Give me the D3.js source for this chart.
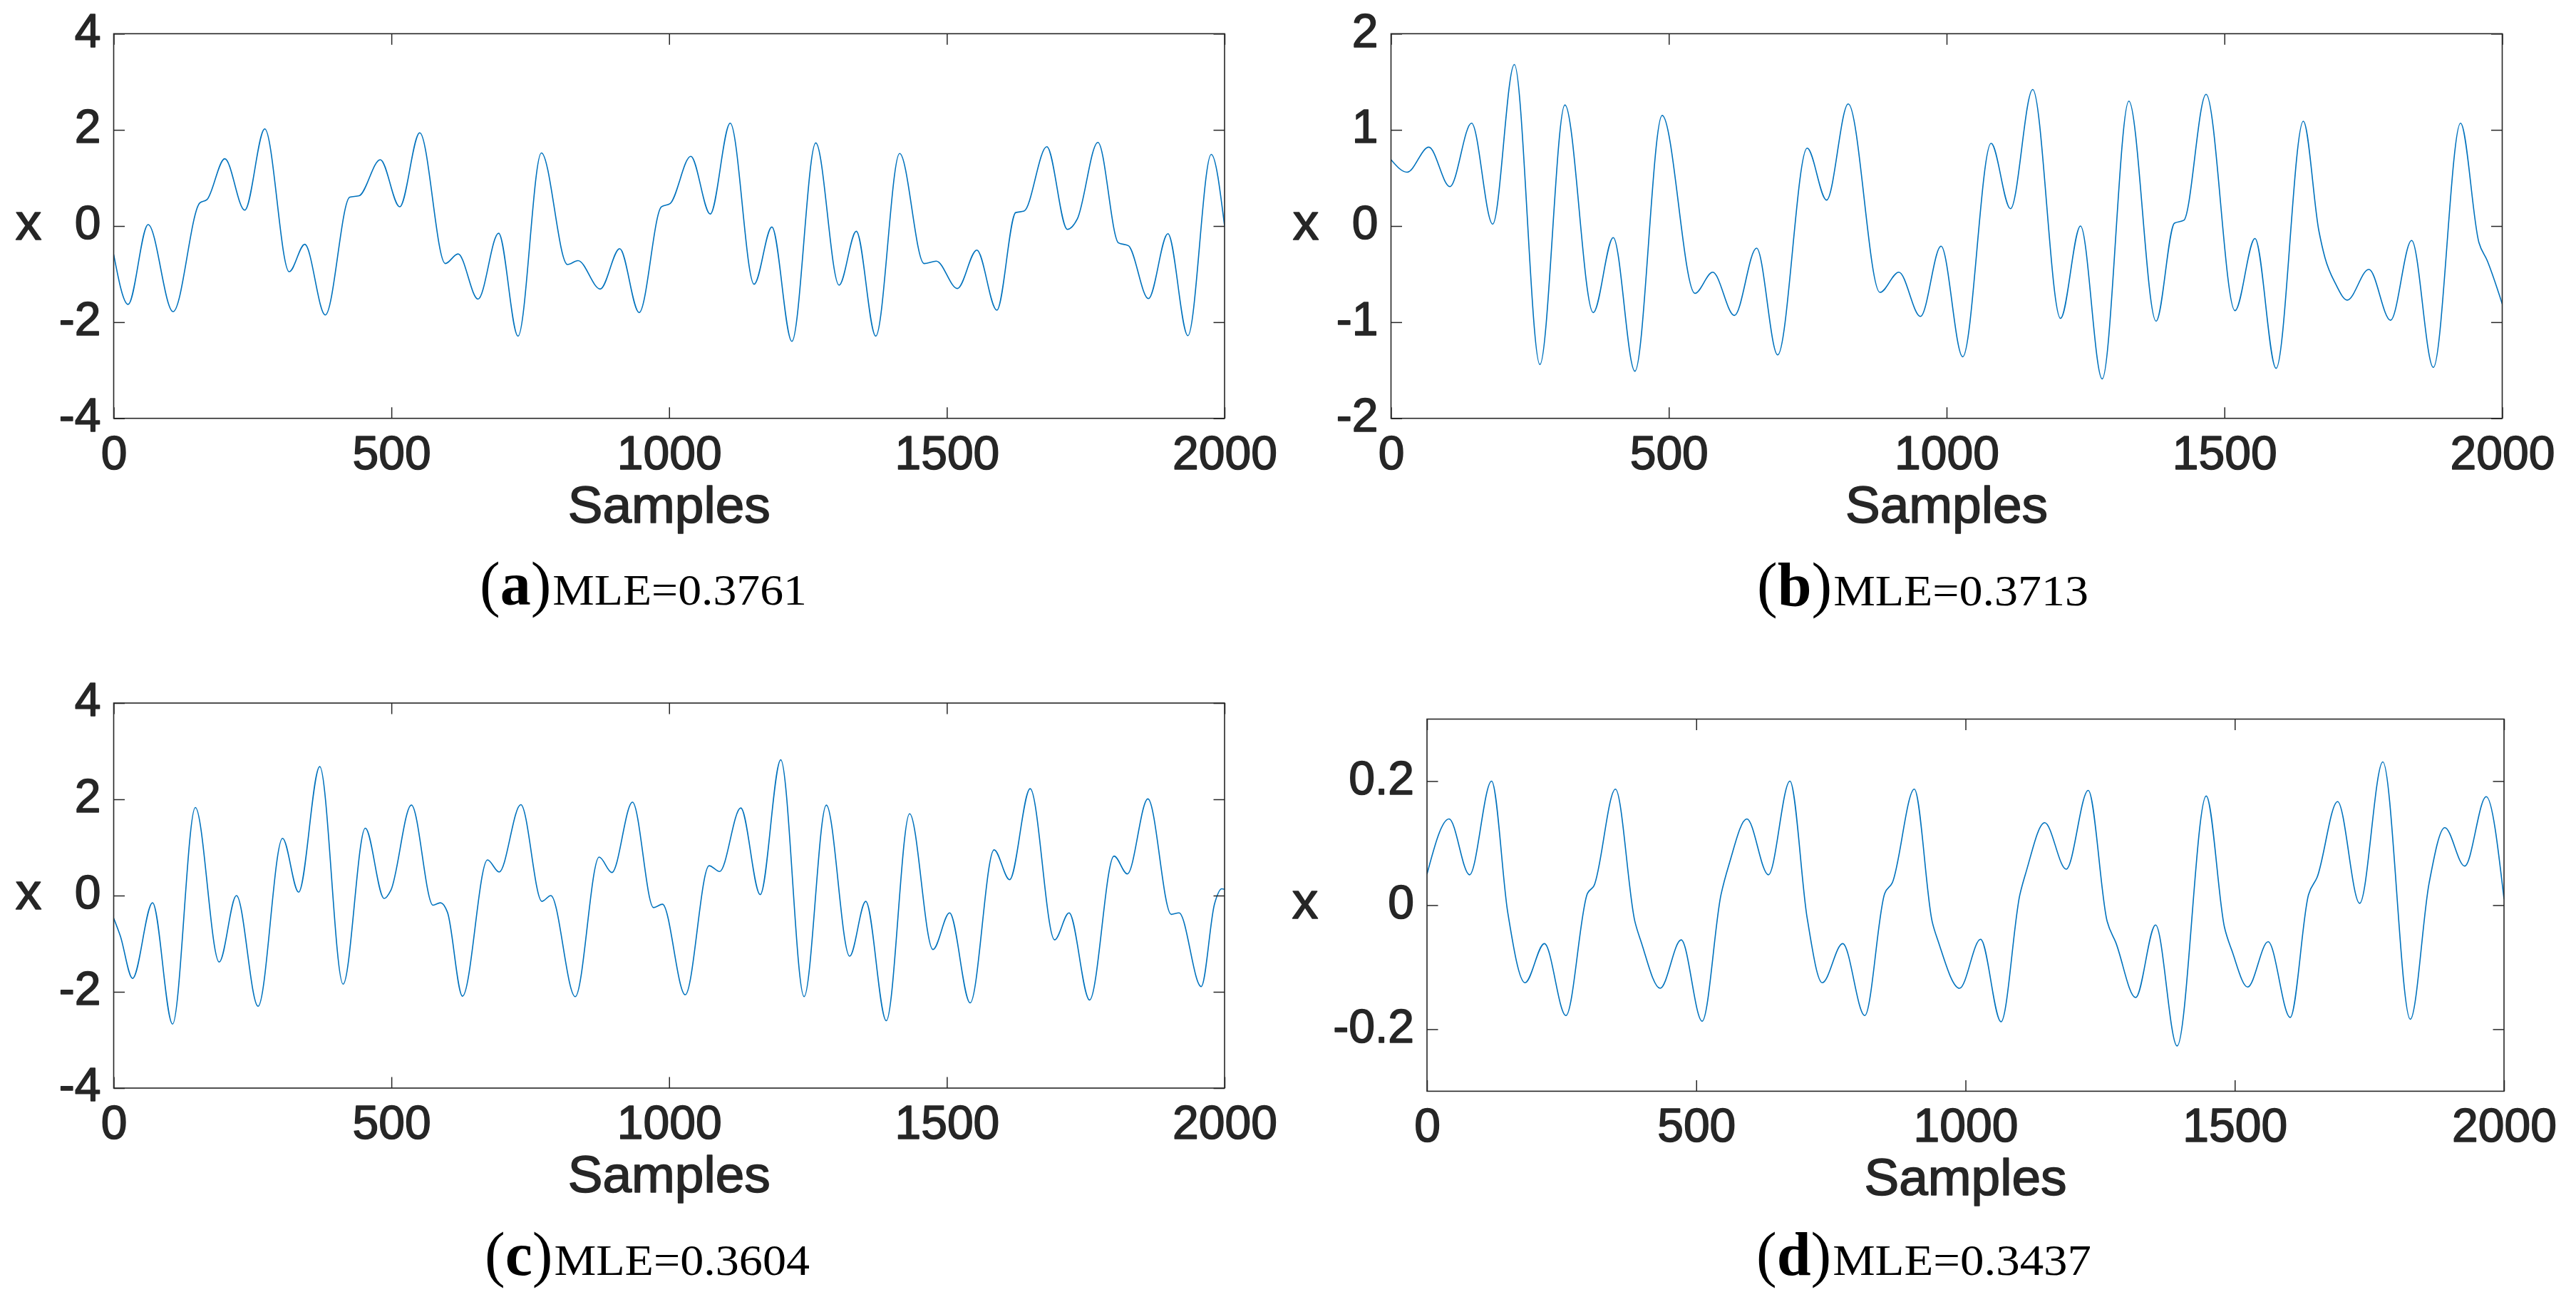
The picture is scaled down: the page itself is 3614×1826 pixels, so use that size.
<!DOCTYPE html>
<html>
<head>
<meta charset="utf-8">
<script src="https://cdn.jsdelivr.net/npm/d3@7"></script>
<style>
  html, body { margin: 0; padding: 0; background: #ffffff; }
  svg { display: block; }
</style>
</head>
<body>
<svg id="chart" width="3614" height="1826"></svg>
<script>
// ---------------- DATA ----------------
const xTicks = [0, 500, 1000, 1500, 2000];
const xTickLabels = ["0", "500", "1000", "1500", "2000"];

const yTicks_A = [-4, -2, 0, 2, 4];
const yTickLabels_A = ["-4", "-2", "0", "2", "4"];
const yTicks_B = [-2, -1, 0, 1, 2];
const yTickLabels_B = ["-2", "-1", "0", "1", "2"];
const yTicks_C = [-4, -2, 0, 2, 4];
const yTickLabels_C = ["-4", "-2", "0", "2", "4"];
const yTicks_D = [-0.2, 0, 0.2];
const yTickLabels_D = ["-0.2", "0", "0.2"];

const captionLetters = ["a", "b", "c", "d"];
const captionTexts = ["MLE=0.3761", "MLE=0.3713", "MLE=0.3604", "MLE=0.3437"];

// Panel (a)
const samplesA = [0, 26, 62, 107, 155, 168, 200, 236, 272, 316, 344, 381, 425, 442, 480, 515, 551, 597, 620, 656, 693, 728, 770, 817, 836, 876, 911, 946, 986, 1002, 1039, 1074, 1110, 1153, 1185, 1221, 1264, 1306, 1337, 1372, 1415, 1459, 1481, 1519, 1554, 1590, 1624, 1639, 1680, 1717, 1735, 1772, 1809, 1827, 1863, 1898, 1934, 1976, 2000];
const valuesA  = [-0.59, -1.63, 0.03, -1.78, 0.48, 0.55, 1.40, 0.33, 2.02, -0.95, -0.38, -1.85, 0.60, 0.63, 1.38, 0.40, 1.94, -0.78, -0.58, -1.52, -0.15, -2.29, 1.52, -0.80, -0.72, -1.31, -0.47, -1.80, 0.40, 0.47, 1.45, 0.25, 2.14, -1.21, -0.02, -2.40, 1.73, -1.23, -0.11, -2.29, 1.51, -0.78, -0.73, -1.30, -0.50, -1.75, 0.28, 0.31, 1.65, -0.07, 0.15, 1.74, -0.35, -0.41, -1.51, -0.16, -2.28, 1.49, 0.00];

// Panel (b)
const samplesB = [0, 29, 68, 106, 145, 183, 222, 268, 313, 364, 400, 439, 488, 547, 579, 618, 658, 696, 749, 784, 823, 880, 914, 953, 990, 1029, 1080, 1115, 1155, 1205, 1241, 1280, 1328, 1377, 1410, 1427, 1467, 1519, 1555, 1593, 1642, 1670, 1681, 1700, 1721, 1760, 1799, 1837, 1876, 1925, 1958, 1973, 2000];
const valuesB  = [0.69, 0.56, 0.82, 0.41, 1.07, 0.02, 1.68, -1.44, 1.26, -0.90, -0.12, -1.51, 1.15, -0.70, -0.48, -0.93, -0.23, -1.34, 0.81, 0.27, 1.27, -0.69, -0.48, -0.94, -0.21, -1.36, 0.86, 0.18, 1.42, -0.96, 0.00, -1.59, 1.30, -0.99, 0.03, 0.06, 1.37, -0.88, -0.13, -1.48, 1.09, -0.05, -0.33, -0.60, -0.77, -0.45, -0.98, -0.15, -1.47, 1.07, -0.17, -0.36, -0.81];

// Panel (c)
const samplesC = [0, 12, 34, 70, 106, 147, 190, 221, 260, 304, 333, 371, 413, 453, 487, 499, 536, 575, 588, 601, 628, 673, 694, 733, 771, 787, 831, 874, 897, 934, 972, 988, 1029, 1072, 1091, 1129, 1164, 1201, 1243, 1283, 1325, 1354, 1391, 1433, 1475, 1505, 1542, 1585, 1613, 1650, 1694, 1720, 1757, 1801, 1825, 1862, 1904, 1918, 1958, 1982, 1995, 2000];
const valuesC  = [-0.47, -0.84, -1.72, -0.15, -2.67, 1.83, -1.38, 0.00, -2.30, 1.19, 0.07, 2.68, -1.84, 1.40, -0.06, 0.11, 1.88, -0.20, -0.15, -0.35, -2.09, 0.74, 0.49, 1.89, -0.12, 0.00, -2.10, 0.80, 0.48, 1.94, -0.25, -0.18, -2.06, 0.62, 0.50, 1.82, 0.02, 2.82, -2.10, 1.88, -1.26, -0.12, -2.60, 1.70, -1.12, -0.36, -2.23, 0.95, 0.33, 2.22, -0.92, -0.36, -2.17, 0.82, 0.45, 2.01, -0.39, -0.36, -1.89, -0.17, 0.14, 0.13];

// Panel (d)
const samplesD = [0, 41, 79, 120, 150, 182, 218, 258, 298, 310, 350, 386, 398, 433, 472, 511, 546, 562, 594, 634, 674, 706, 734, 772, 813, 850, 864, 905, 938, 950, 989, 1028, 1066, 1101, 1113, 1147, 1187, 1228, 1263, 1279, 1316, 1353, 1393, 1447, 1481, 1495, 1524, 1562, 1603, 1637, 1653, 1691, 1732, 1775, 1826, 1861, 1890, 1927, 1967, 2000];
const valuesD  = [0.050, 0.139, 0.049, 0.200, -0.012, -0.125, -0.062, -0.178, 0.019, 0.031, 0.187, -0.026, -0.060, -0.134, -0.056, -0.187, 0.017, 0.069, 0.139, 0.049, 0.200, -0.021, -0.125, -0.062, -0.178, 0.019, 0.036, 0.187, -0.026, -0.060, -0.134, -0.055, -0.188, 0.017, 0.055, 0.133, 0.058, 0.185, -0.026, -0.060, -0.149, -0.032, -0.227, 0.176, -0.036, -0.074, -0.132, -0.059, -0.181, 0.017, 0.045, 0.167, 0.003, 0.231, -0.184, 0.036, 0.125, 0.063, 0.175, 0.010];

// ---------------- LAYOUT ----------------
const panels = [
  { samples: samplesA, values: valuesA, yDomain: [-4, 4], yTicks: yTicks_A, yLabels: yTickLabels_A,
    left: 159.5, right: 1718, top: 47.3, bottom: 586.7, ylabX: 40, capStart: 673, capEnd: 1132, capBase: 848 },
  { samples: samplesB, values: valuesB, yDomain: [-2, 2], yTicks: yTicks_B, yLabels: yTickLabels_B,
    left: 1951.5, right: 3510.5, top: 47.3, bottom: 586.7, ylabX: 1832, capStart: 2465, capEnd: 2930, capBase: 849 },
  { samples: samplesC, values: valuesC, yDomain: [-4, 4], yTicks: yTicks_C, yLabels: yTickLabels_C,
    left: 159.5, right: 1718, top: 986, bottom: 1526, ylabX: 40, capStart: 680, capEnd: 1136, capBase: 1788 },
  { samples: samplesD, values: valuesD, yDomain: [-0.3, 0.3], yTicks: yTicks_D, yLabels: yTickLabels_D,
    left: 2002, right: 3513, top: 1008.5, bottom: 1530.4, ylabX: 1831, capStart: 2464, capEnd: 2934, capBase: 1788 }
];

const INK = "#262626";
const LINE = "#0072BD";
const SANS = "'Liberation Sans', Arial, Helvetica, sans-serif";
const SERIF = "'Liberation Serif', 'Times New Roman', serif";
const TICK_FS = 66;
const LABEL_FS = 73;
const TICK_LEN = 15.5;

const svg = d3.select("#chart");
svg.append("rect").attr("width", 3614).attr("height", 1826).attr("fill", "#ffffff");

function heavy(sel) {
  sel.attr("stroke", INK).attr("stroke-width", 1.6).attr("paint-order", "stroke")
     .attr("stroke-linejoin", "round");
}

panels.forEach((p, i) => {
  const x = d3.scaleLinear().domain([0, 2000]).range([p.left, p.right]);
  const y = d3.scaleLinear().domain(p.yDomain).range([p.bottom, p.top]);
  const g = svg.append("g");

  const clipId = "clip" + i;
  g.append("clipPath").attr("id", clipId)
    .append("rect").attr("x", p.left).attr("y", p.top)
    .attr("width", p.right - p.left).attr("height", p.bottom - p.top);

  const data = p.samples.map((s, k) => [s, p.values[k]]);
  const line = d3.line().x(d => x(d[0])).y(d => y(d[1])).curve(d3.curveMonotoneX);
  g.append("path").datum(data)
    .attr("clip-path", `url(#${clipId})`)
    .attr("d", line)
    .attr("fill", "none")
    .attr("stroke", LINE)
    .attr("stroke-width", 1.6)
    .attr("stroke-linejoin", "round");

  // axes (MATLAB style box with inward ticks on all four sides)
  const axB = g.append("g").attr("transform", `translate(0,${p.bottom})`)
    .call(d3.axisBottom(x).tickValues(xTicks).tickSize(-TICK_LEN).tickSizeOuter(0)
      .tickPadding(24).tickFormat((d, k) => xTickLabels[k]));
  const axT = g.append("g").attr("transform", `translate(0,${p.top})`)
    .call(d3.axisTop(x).tickValues(xTicks).tickSize(-TICK_LEN).tickSizeOuter(0).tickFormat(""));
  const axL = g.append("g").attr("transform", `translate(${p.left},0)`)
    .call(d3.axisLeft(y).tickValues(p.yTicks).tickSize(-TICK_LEN).tickSizeOuter(0)
      .tickPadding(18).tickFormat((d, k) => p.yLabels[k]));
  const axR = g.append("g").attr("transform", `translate(${p.right},0)`)
    .call(d3.axisRight(y).tickValues(p.yTicks).tickSize(-TICK_LEN).tickSizeOuter(0).tickFormat(""));

  [axB, axT, axL, axR].forEach(ax => {
    ax.select(".domain").remove();
    ax.selectAll(".tick line").attr("stroke", INK).attr("stroke-width", 1.5);
    const t = ax.selectAll("text").attr("fill", INK).style("font-family", SANS).style("font-size", TICK_FS + "px");
    heavy(t);
  });
  axL.selectAll(".tick text").attr("dy", "0.27em");

  g.append("rect")
    .attr("x", p.left).attr("y", p.top)
    .attr("width", p.right - p.left).attr("height", p.bottom - p.top)
    .attr("fill", "none").attr("stroke", INK).attr("stroke-width", 1.6);

  // axis labels
  heavy(g.append("text")
    .attr("x", (p.left + p.right) / 2).attr("y", p.bottom + 146)
    .attr("text-anchor", "middle")
    .attr("fill", INK).style("font-family", SANS).style("font-size", LABEL_FS + "px")
    .text("Samples"));
  heavy(g.append("text")
    .attr("x", p.ylabX).attr("y", (p.top + p.bottom) / 2 + 19)
    .attr("text-anchor", "middle")
    .attr("fill", INK).style("font-family", SANS).style("font-size", LABEL_FS + "px")
    .text("x"));

  // caption: (letter)MLE=...
  const cap = g.append("text")
    .attr("x", p.capStart).attr("y", p.capBase)
    .attr("fill", "#000").style("font-family", SERIF).style("font-size", "86px");
  cap.append("tspan").text("(");
  cap.append("tspan").style("font-weight", "bold").text(captionLetters[i]);
  cap.append("tspan").text(")");
  const w = cap.node().getComputedTextLength();
  const mleX = p.capStart + w + 2;
  g.append("text")
    .attr("x", mleX).attr("y", p.capBase)
    .attr("fill", "#000").style("font-family", SERIF).style("font-size", "62px")
    .attr("textLength", p.capEnd - mleX).attr("lengthAdjust", "spacingAndGlyphs")
    .text(captionTexts[i]);
});
</script>
</body>
</html>
